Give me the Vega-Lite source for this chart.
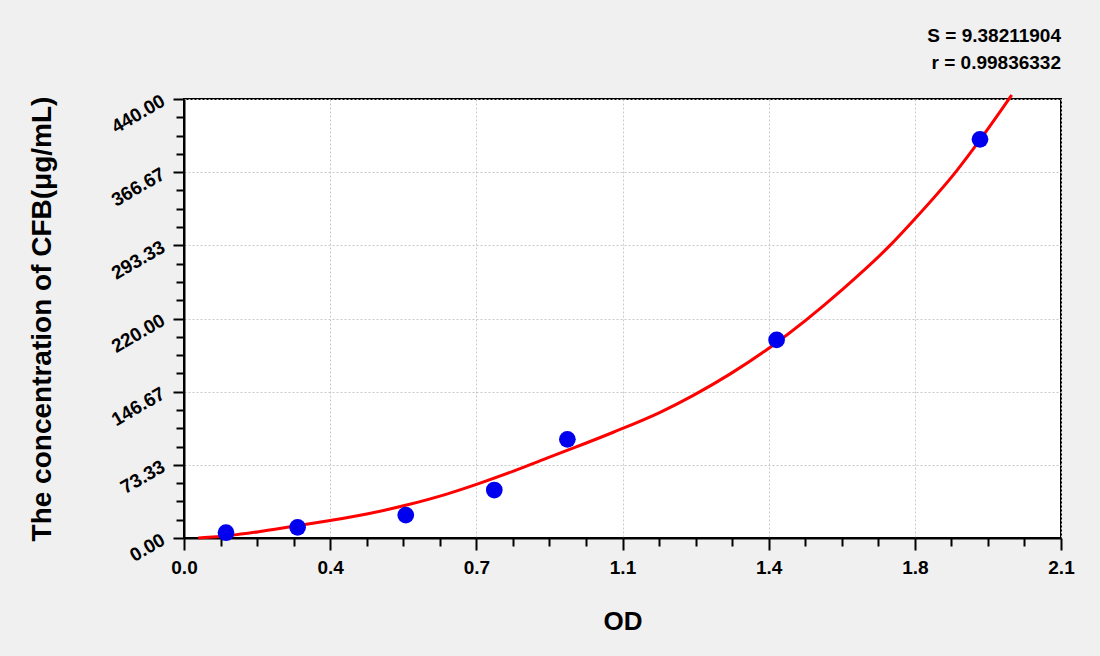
{
  "$schema": "https://vega.github.io/schema/vega-lite/v6.json",
  "width": 877,
  "height": 439,
  "autosize": {"type": "none"},
  "padding": {"left": 184, "top": 99, "right": 39, "bottom": 118},
  "background": "#f0f0f0",
  "config": {
    "font": "Liberation Sans",
    "view": {"fill": "white", "stroke": "black", "strokeWidth": 2},
    "axis": {
      "labelFont": "Liberation Sans",
      "labelFontSize": 19,
      "labelFontWeight": "bold",
      "labelColor": "black",
      "labelFlush": false,
      "titleFont": "Liberation Sans",
      "titleFontSize": 26,
      "titleFontWeight": "bold",
      "titleColor": "black",
      "domainColor": "black",
      "domainWidth": 2,
      "tickColor": "black",
      "tickWidth": 2,
      "gridColor": "#c8c8c8",
      "gridDash": [2, 2],
      "gridWidth": 1
    }
  },
  "title": {
    "text": "S = 9.38211904",
    "subtitle": "r = 0.99836332",
    "anchor": "end",
    "frame": "group",
    "font": "Liberation Sans",
    "fontSize": 19,
    "fontWeight": "bold",
    "color": "black",
    "subtitleFont": "Liberation Sans",
    "subtitleFontSize": 19,
    "subtitleFontWeight": "bold",
    "subtitleColor": "black",
    "subtitlePadding": 8,
    "offset": 16
  },
  "datasets": {
    "standards": [
      {"od": 0.1006, "conc": 5.3},
      {"od": 0.272, "conc": 10.7},
      {"od": 0.531, "conc": 23.0},
      {"od": 0.743, "conc": 48.1},
      {"od": 0.918, "conc": 98.9},
      {"od": 1.419, "conc": 198.5},
      {"od": 1.906, "conc": 399.6}
    ],
    "fit": [
      {"od": 0.034, "conc": 0},
      {"od": 0.110, "conc": 2.5},
      {"od": 0.190, "conc": 7},
      {"od": 0.274, "conc": 12.5},
      {"od": 0.350, "conc": 17.5},
      {"od": 0.4375, "conc": 24},
      {"od": 0.533, "conc": 33},
      {"od": 0.629, "conc": 44},
      {"od": 0.709, "conc": 55},
      {"od": 0.789, "conc": 67},
      {"od": 0.869, "conc": 80},
      {"od": 0.925, "conc": 89},
      {"od": 1.028, "conc": 106},
      {"od": 1.140, "conc": 126},
      {"od": 1.2196, "conc": 143},
      {"od": 1.310, "conc": 165},
      {"od": 1.403, "conc": 191},
      {"od": 1.579, "conc": 250},
      {"od": 1.690, "conc": 293},
      {"od": 1.746, "conc": 318},
      {"od": 1.850, "conc": 368},
      {"od": 1.906, "conc": 399},
      {"od": 1.982, "conc": 444}
    ]
  },
  "layer": [
    {
      "data": {"name": "fit"},
      "mark": {"type": "line", "color": "#ff0000", "strokeWidth": 3, "clip": false, "interpolate": "monotone"},
      "encoding": {
        "x": {
          "field": "od",
          "type": "quantitative",
          "scale": {"domain": [0, 2.1], "nice": false, "zero": false},
          "axis": {
            "orient": "bottom",
            "title": "OD",
            "values": [0, 0.35, 0.7, 1.05, 1.4, 1.75, 2.1],
            "labelExpr": "format(datum.value + 0.001, '.1f')",
            "tickSize": 12,
            "labelPadding": 8,
            "titlePadding": 31,
            "grid": true
          }
        },
        "y": {
          "field": "conc",
          "type": "quantitative",
          "scale": {"domain": [0, 440], "nice": false},
          "axis": {
            "orient": "left",
            "title": "The concentration of CFB(μg/mL)",
            "titleFontSize": 28,
            "values": [0, 73.3333, 146.6667, 220, 293.3333, 366.6667, 440],
            "format": ".2f",
            "labelAngle": -30,
            "labelAlign": "right",
            "labelBaseline": "middle",
            "tickSize": 11,
            "labelPadding": 10,
            "titlePadding": 52,
            "grid": true
          }
        }
      }
    },
    {
      "data": {"name": "standards"},
      "mark": {"type": "circle", "color": "#0000ee", "opacity": 1, "size": 280},
      "encoding": {
        "x": {
          "field": "od",
          "type": "quantitative",
          "axis": {
            "orient": "bottom",
            "title": null,
            "values": [0.0875, 0.175, 0.2625, 0.4375, 0.525, 0.6125, 0.7875, 0.875, 0.9625, 1.1375, 1.225, 1.3125, 1.4875, 1.575, 1.6625, 1.8375, 1.925, 2.0125],
            "labels": false,
            "grid": false,
            "domain": false,
            "tickSize": 8,
            "offset": 0
          }
        },
        "y": {
          "field": "conc",
          "type": "quantitative",
          "axis": {
            "orient": "left",
            "title": null,
            "values": [18.333, 36.667, 55, 91.667, 110, 128.333, 165, 183.333, 201.667, 238.333, 256.667, 275, 311.667, 330, 348.333, 385, 403.333, 421.667],
            "labels": false,
            "grid": false,
            "domain": false,
            "tickSize": 8,
            "offset": 0
          }
        }
      }
    }
  ],
  "resolve": {"axis": {"x": "independent", "y": "independent"}}
}
